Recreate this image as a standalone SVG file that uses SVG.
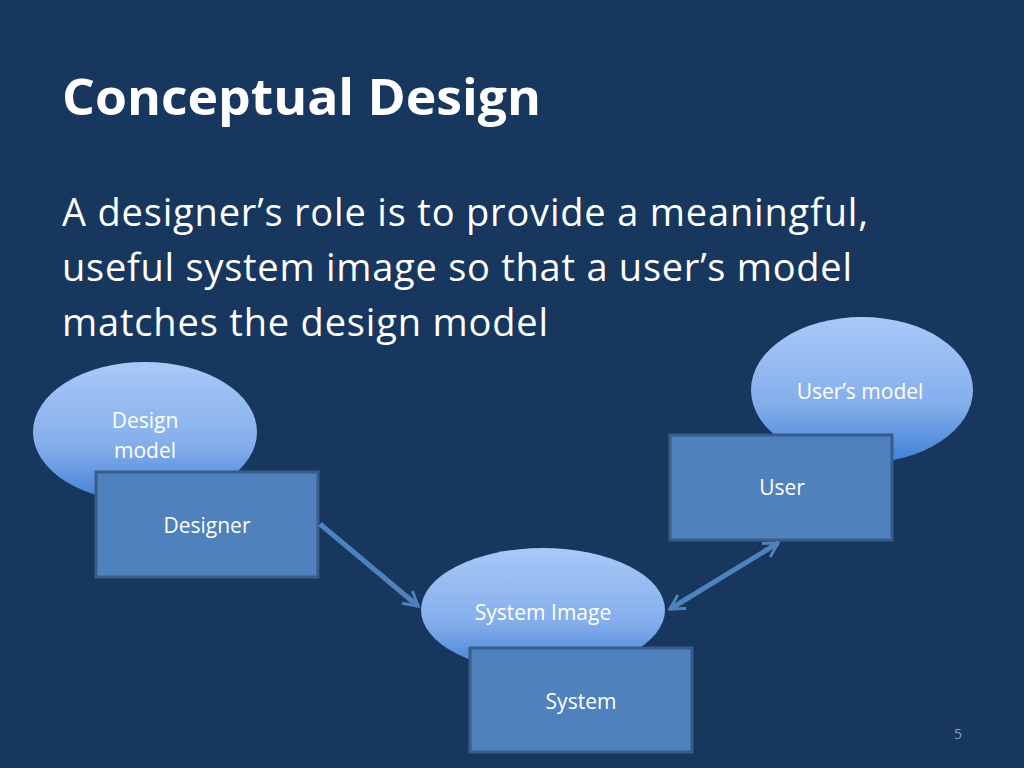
<svg xmlns="http://www.w3.org/2000/svg" width="1024" height="768" viewBox="0 0 1024 768">
<style>
.t{font-family:"Open Sans","Liberation Sans",sans-serif;fill:#fff}
.lbl{font-family:"Open Sans","Liberation Sans",sans-serif;fill:#fff;font-size:21px;text-anchor:middle}
.box{fill:#4F81BD;stroke:#385D8A;stroke-width:3}
.ell{fill:url(#g)}
.con{stroke:#4F81BD;stroke-width:5;fill:none;marker-end:url(#a)}
</style>
<defs>
<linearGradient id="g" x1="0" y1="0" x2="0" y2="1">
<stop offset="0" stop-color="#A9C9F8"/><stop offset="0.6" stop-color="#84AEEB"/><stop offset="1" stop-color="#3F7FD6"/>
</linearGradient>
<marker id="a" viewBox="0 0 10 10" refX="8" refY="5" markerWidth="4" markerHeight="4" orient="auto-start-reverse" markerUnits="strokeWidth">
<path d="M1,1 L8,5 L1,9" fill="none" stroke="#4F81BD" stroke-width="1.5"/>
</marker>
</defs>
<rect width="1024" height="768" fill="#17375E"/>
<text class="t" x="62" y="115" font-size="50" font-weight="bold" textLength="479" lengthAdjust="spacingAndGlyphs">Conceptual Design</text>
<text class="t" font-size="38"><tspan x="62" y="226" textLength="806">A designer’s role is to provide a meaningful,</tspan><tspan x="62" y="281" textLength="790">useful system image so that a user’s model</tspan><tspan x="62" y="336" textLength="486">matches the design model</tspan></text>
<g id="design-model"><ellipse class="ell" cx="145" cy="432" rx="112" ry="70"/><text class="lbl"><tspan x="145" y="428">Design</tspan><tspan x="145" y="458">model</tspan></text></g>
<g id="users-model"><ellipse class="ell" cx="862" cy="390" rx="111" ry="73"/><text class="lbl" x="860" y="399">User’s model</text></g>
<g id="system-image"><ellipse class="ell" cx="543" cy="610" rx="122" ry="62"/><text class="lbl" x="543" y="620">System Image</text></g>
<g id="designer"><rect class="box" x="96" y="472" width="222" height="105"/><text class="lbl" x="207" y="533">Designer</text></g>
<g id="user"><rect class="box" x="670" y="435" width="222" height="105"/><text class="lbl" x="782" y="495">User</text></g>
<g id="system"><rect class="box" x="470" y="648" width="222" height="104"/><text class="lbl" x="581" y="709">System</text></g>
<g id="connectors">
<line class="con" x1="320" y1="524" x2="418" y2="606"/>
<line class="con" x1="670" y1="609" x2="778" y2="543" style="marker-start:url(#a)"/>
</g>
<text x="958" y="739" font-family="Open Sans, Liberation Sans, sans-serif" font-size="14" fill="#8A9BB3" text-anchor="middle">5</text>
</svg>
